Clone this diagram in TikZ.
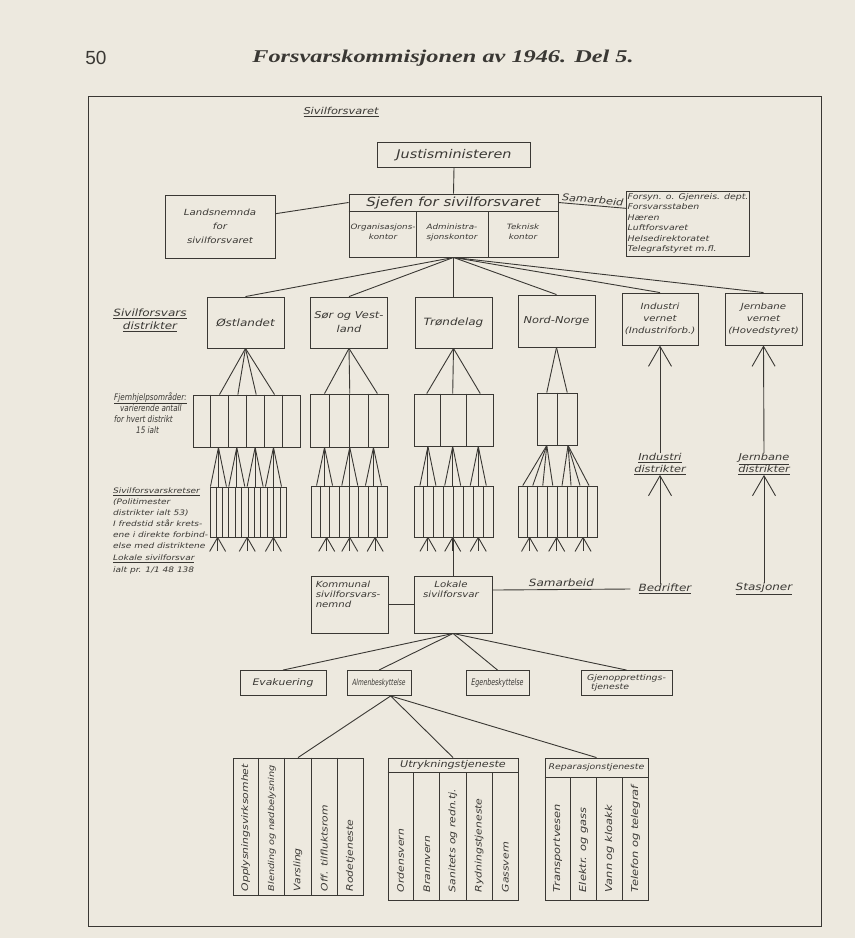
\documentclass[tikz,border=0pt]{standalone}
\usepackage{fontspec}
\newfontfamily\haand[FakeStretch=1.2]{DejaVu Sans}
\newfontfamily\haandsmal{DejaVu Sans}
\newfontfamily\haandtett[FakeStretch=0.8]{DejaVu Sans}
\newfontfamily\haandtrang[FakeStretch=0.7]{DejaVu Sans}
\newfontfamily\tittelskrift[FakeStretch=1.35]{Liberation Serif}
\newfontfamily\sidetall{Liberation Sans}
\usetikzlibrary{calc}
\usetikzlibrary{positioning}
\usetikzlibrary{arrows.meta}

\definecolor{papir}{RGB}{237,233,223}
\definecolor{blekk}{RGB}{58,56,52}

% handskrift: storrelse, linjeavstand
\newcommand{\hf}[2]{\fontsize{#1}{#2}\selectfont\haand\itshape}
\newcommand{\hsmal}[2]{\fontsize{#1}{#2}\selectfont\haandsmal\itshape}
\newcommand{\htett}[2]{\fontsize{#1}{#2}\selectfont\haandtett\itshape}
\newcommand{\htrang}[2]{\fontsize{#1}{#2}\selectfont\haandtrang\itshape}

\tikzset{
  strek/.style={draw=blekk, line width=0.9pt},
  boks/.style={strek, inner sep=1pt, align=center, text=blekk},
  merke/.style={text=blekk, inner sep=0pt, align=left},
  pil/.style={strek, -{Straight Barb[length=20pt,width=23pt]}},
  loddrett/.style={text=blekk, inner sep=0pt, rotate=90, anchor=west, font=\hf{9}{10}},
}

% deler en boks i like celler
\newcommand{\deling}[2]{%
  \pgfmathtruncatemacro{\antall}{#2-1}%
  \foreach \i in {1,...,\antall}
    \draw[strek] ($(#1.north west)!\i/#2!(#1.north east)$) -- ($(#1.south west)!\i/#2!(#1.south east)$);
}
% vifte fra kretsomraade ned til kretsene
\newcommand{\kretsvifte}[3]{%
  \foreach \f in {#3}{
    \coordinate (topp) at ($(#1.south west)!\f!(#1.south east)$);
    \foreach \d in {-8,0,8}
      \draw[strek] (topp) -- ($(topp |- #2.north)+(\d,0)$);
  }
}
% smaa foetter under kretsene
\newcommand{\fotter}[2]{%
  \foreach \f in {#2}{
    \coordinate (fot) at ($(#1.south west)!\f!(#1.south east)$);
    \foreach \d in {-8,0,8} \draw[strek] (fot) -- ++(\d,14);
  }
}

\begin{document}
\begin{tikzpicture}[x=1pt,y=-1pt]
% papir og ramme
\fill[papir] (0,0) rectangle (855,938);
\useasboundingbox (0,0) rectangle (855,938);
\draw[strek, line width=1pt] (88,96) rectangle (821,926);

% sidehode
\node[text=blekk, font=\fontsize{19}{19}\selectfont\sidetall] (sidetall) at (96,58) {50};
\node[text=blekk, font=\fontsize{18}{18}\selectfont\tittelskrift\bfseries\itshape] (tittel) at (443,58) {Forsvarskommisjonen av 1946. Del 5.};
\node[merke, font=\hf{9.5}{10}] (overskrift) at (341,112) {\underline{Sivilforsvaret}};

% toppledd
\node[boks, minimum width=153, minimum height=25, font=\hf{12}{14}] (justis) at (454,155) {Justisministeren};
\node[boks, minimum width=209, minimum height=63] (sjef) at (453.5,225.5) {};
\draw[strek] ($(sjef.north west)+(0,18)$) coordinate (dv) -- ($(sjef.north east)+(0,18)$) coordinate (dh);
\draw[strek] ($(dv)!0.325!(dh)$) -- ($(sjef.south west)!0.325!(sjef.south east)$);
\draw[strek] ($(dv)!0.665!(dh)$) -- ($(sjef.south west)!0.665!(sjef.south east)$);
\node[merke, align=center, font=\hf{12.5}{14}] (sjeftekst) at ($(sjef.north)+(0,9)$) {Sjefen for sivilforsvaret};
\node[merke, align=center, font=\hf{7.3}{10}] (orgkontor) at (383,232) {Organisasjons-\\kontor};
\node[merke, align=center, font=\hf{7.3}{10}] (admkontor) at (452,232) {Administra-\\sjonskontor};
\node[merke, align=center, font=\hf{7.3}{10}] (tekkontor) at (523,232) {Teknisk\\kontor};
\node[boks, minimum width=110, minimum height=63, font=\hf{8.5}{14}] (lands) at (220,226.5) {Landsnemnda\\for\\sivilforsvaret};
\node[boks, minimum width=114, minimum height=65, align=left, font=\hf{7.8}{10.5}] (etater) at (688,223.5) {Forsyn. o. Gjenreis. dept.\\Forsvarsstaben\\Hæren\\Luftforsvaret\\Helsedirektoratet\\Telegrafstyret m.fl.};

\draw[strek] (justis.south) -- (sjef.north);
\draw[strek] ($(lands.north east)!0.3!(lands.south east)$) -- ($(sjef.north west)!0.14!(sjef.south west)$);
\draw[strek] ($(sjef.north east)!0.14!(sjef.south east)$) -- node[above, sloped, merke, font=\hf{9.5}{10}, inner sep=1.5pt] (samarb1) {Samarbeid} ($(etater.north west)!0.27!(etater.south west)$);

% distrikter
\node[merke, align=center, font=\hf{10}{13}] (distlbl) at (150,320) {\underline{Sivilforsvars}\\\underline{distrikter}};
\node[boks, minimum width=77, minimum height=51, font=\hf{10}{13}] (ost) at (245.5,322.5) {Østlandet};
\node[boks, minimum width=77, minimum height=51, font=\hf{9.5}{14}] (sorvest) at (349,322.5) {Sør og Vest-\\land};
\node[boks, minimum width=77, minimum height=51, font=\hf{10}{13}] (trond) at (453.5,322.5) {Trøndelag};
\node[boks, minimum width=77, minimum height=52, font=\hf{9.5}{13}] (nord) at (556.5,321) {Nord-Norge};
\node[boks, minimum width=76, minimum height=52, font=\hf{8.5}{12}] (indvern) at (660,319) {Industri\\vernet\\(Industriforb.)};
\node[boks, minimum width=77, minimum height=52, font=\hf{8.5}{12}] (jbvern) at (763.5,319) {Jernbane\\vernet\\(Hovedstyret)};
\foreach \mal in {ost,sorvest,trond,nord,indvern,jbvern}
  \draw[strek] (sjef.south) -- (\mal.north);

% kretsomraader
\node[boks, minimum width=107, minimum height=52] (ostomr) at (246.5,421) {};
\node[boks, minimum width=78, minimum height=53] (sorvestomr) at (349,420.5) {};
\node[boks, minimum width=79, minimum height=52] (trondomr) at (453.5,420) {};
\node[boks, minimum width=40, minimum height=52] (nordomr) at (557,419) {};
\deling{ostomr}{6}
\deling{sorvestomr}{4}
\deling{trondomr}{3}
\deling{nordomr}{2}
\foreach \f in {0.25,0.42,0.59,0.76}
  \draw[strek] (ost.south) -- ($(ostomr.north west)!\f!(ostomr.north east)$);
\foreach \f in {0.19,0.51,0.86}
  \draw[strek] (sorvest.south) -- ($(sorvestomr.north west)!\f!(sorvestomr.north east)$);
\foreach \f in {0.165,0.49,0.835}
  \draw[strek] (trond.south) -- ($(trondomr.north west)!\f!(trondomr.north east)$);
\foreach \f in {0.25,0.75}
  \draw[strek] (nord.south) -- ($(nordomr.north west)!\f!(nordomr.north east)$);

% kretser
\node[boks, minimum width=76, minimum height=50] (ostkr) at (248,512) {};
\node[boks, minimum width=76, minimum height=51] (sorvestkr) at (349,511.5) {};
\node[boks, minimum width=79, minimum height=51] (trondkr) at (453.5,511.5) {};
\node[boks, minimum width=79, minimum height=51] (nordkr) at (557.5,511.5) {};
\deling{ostkr}{12}
\deling{sorvestkr}{8}
\deling{trondkr}{8}
\deling{nordkr}{8}
\kretsvifte{ostomr}{ostkr}{0.24,0.41,0.58,0.75}
\kretsvifte{sorvestomr}{sorvestkr}{0.19,0.51,0.81}
\kretsvifte{trondomr}{trondkr}{0.18,0.49,0.81}
\coordinate (n1) at ($(nordomr.south west)!0.25!(nordomr.south east)$);
\foreach \d in {-24,-14,-4,6} \draw[strek] (n1) -- ($(n1 |- nordkr.north)+(\d,0)$);
\coordinate (n2) at ($(nordomr.south west)!0.77!(nordomr.south east)$);
\foreach \d in {-6,3,12,21} \draw[strek] (n2) -- ($(n2 |- nordkr.north)+(\d,0)$);
\fotter{ostkr}{0.105,0.49,0.83}
\fotter{sorvestkr}{0.21,0.51,0.84}
\fotter{trondkr}{0.18,0.49,0.81}
\fotter{nordkr}{0.15,0.49,0.82}

% venstre forklaringer
\node[merke, anchor=north west, font=\htett{9}{11}] (fjernlbl) at (114,392) {\underline{Fjernhjelpsområder:}\\\hspace*{6pt}varierende antall\\for hvert distrikt\\\hspace*{22pt}15 ialt};
\node[merke, anchor=north west, font=\hf{7.5}{11}] (kretslbl) at (113,488) {\underline{Sivilforsvarskretser}\\(Politimester\\distrikter ialt 53)\\I fredstid står krets-\\ene i direkte forbind-\\else med distriktene};
\node[merke, anchor=north west, font=\hf{7.5}{11.5}] (lokallbl) at (113,555) {\underline{Lokale sivilforsvar}\\ialt pr. 1/1 48 138};

% industri og jernbane
\node[merke, align=center, font=\hf{9.5}{12}] (indd) at (660,464) {\underline{Industri}\\\underline{distrikter}};
\node[merke, align=center, font=\hf{9.5}{12}] (jbd) at (764,464) {\underline{Jernbane}\\\underline{distrikter}};
\draw[pil] (indd.north) -- (indvern.south);
\draw[pil] (jbd.north) -- (jbvern.south);
\node[merke, font=\hf{10}{12}] (bedr) at (665,589) {\underline{Bedrifter}};
\node[merke, font=\hf{10}{12}] (stasj) at (764,589) {\underline{Stasjoner}};
\draw[pil] (indd.south |- bedr.north) -- (indd.south);
\draw[pil] (stasj.north) -- (jbd.south);

% lokalt ledd
\node[boks, minimum width=77, minimum height=57] (kommunal) at (349.5,604.5) {};
\node[merke, anchor=north west, font=\hf{8.5}{10}] (kommunaltekst) at ($(kommunal.north west)+(5,5)$) {Kommunal\\sivilforsvars-\\nemnd};
\node[boks, minimum width=78, minimum height=57] (lokale) at (453,604.5) {};
\node[merke, anchor=north, align=center, font=\hf{8.5}{10.5}] (lokaletekst) at ($(lokale.north)+(-2,5)$) {Lokale\\sivilforsvar};
\draw[strek] (trondkr.south) -- (trondkr.south |- lokale.north);
\draw[strek] (kommunal.east) -- (lokale.west);
\draw[strek] ($(lokale.north east)!0.25!(lokale.south east)$) -- node[above, merke, font=\hf{10}{12}, inner sep=2pt] (samarb2) {Samarbeid} ($(bedr.west)+(-8,0)$);

% tjenester
\node[boks, minimum width=86, minimum height=25, font=\hf{9}{10}] (evak) at (283,683) {Evakuering};
\node[boks, minimum width=64, minimum height=25, font=\htrang{8.5}{9}] (almen) at (379,683) {Almenbeskyttelse};
\node[boks, minimum width=63, minimum height=25, font=\htrang{9}{9}] (egen) at (497.5,683) {Egenbeskyttelse};
\node[boks, minimum width=91, minimum height=25, align=left, font=\hf{7.8}{9}] (gjen) at (626.5,683) {Gjenopprettings-\\\hspace*{4pt}tjeneste};
\foreach \mal in {evak,almen,egen,gjen}
  \draw[strek] (lokale.south) -- (\mal.north);

% almenbeskyttelse deles videre
\node[boks, minimum width=130, minimum height=137] (opplys) at (298,826.5) {};
\deling{opplys}{5}
\node[boks, minimum width=130, minimum height=142] (utr) at (453,829) {};
\draw[strek] ($(utr.north west)+(0,15)$) -- ($(utr.north east)+(0,15)$);
\foreach \i in {1,...,4}
  \draw[strek] ($(utr.north west)!\i/5!(utr.north east)+(0,15)$) -- ($(utr.south west)!\i/5!(utr.south east)$);
\node[merke, font=\hf{9.3}{10}] (utrtekst) at ($(utr.north)+(0,7.5)$) {Utrykningstjeneste};
\node[boks, minimum width=103, minimum height=142] (rep) at (596.5,829) {};
\draw[strek] ($(rep.north west)+(0,20)$) -- ($(rep.north east)+(0,20)$);
\foreach \i in {1,...,3}
  \draw[strek] ($(rep.north west)!\i/4!(rep.north east)+(0,20)$) -- ($(rep.south west)!\i/4!(rep.south east)$);
\node[merke, font=\hf{7.8}{9}] (reptekst) at ($(rep.north)+(0,10)$) {Reparasjonstjeneste};
\coordinate (almenfot) at ($(almen.south west)!0.68!(almen.south east)$);
\foreach \mal in {opplys,utr,rep}
  \draw[strek] (almenfot) -- (\mal.north);

% loddrette tekster
\foreach \i/\tekst [evaluate=\i as \f using (\i-0.5)/5] in {1/Opplysningsvirksomhet,2/{\hf{8.1}{9}Blending og nødbelysning},3/Varsling,4/Off. tilfluktsrom,5/Rodetjeneste}
  \node[loddrett] (opplys\i) at ($(opplys.south west)!\f!(opplys.south east)+(0,-4)$) {\tekst};
\foreach \i/\tekst [evaluate=\i as \f using (\i-0.5)/5] in {1/Ordensvern,2/Brannvern,3/Sanitets og redn.tj.,4/Rydningstjeneste,5/Gassvern}
  \node[loddrett] (utr\i) at ($(utr.south west)!\f!(utr.south east)+(0,-8)$) {\tekst};
\foreach \i/\tekst [evaluate=\i as \f using (\i-0.5)/4] in {1/Transportvesen,2/Elektr. og gass,3/Vann og kloakk,4/Telefon og telegraf}
  \node[loddrett, font=\hf{9.5}{10}] (rep\i) at ($(rep.south west)!\f!(rep.south east)+(0,-8)$) {\tekst};
\end{tikzpicture}
\end{document}
